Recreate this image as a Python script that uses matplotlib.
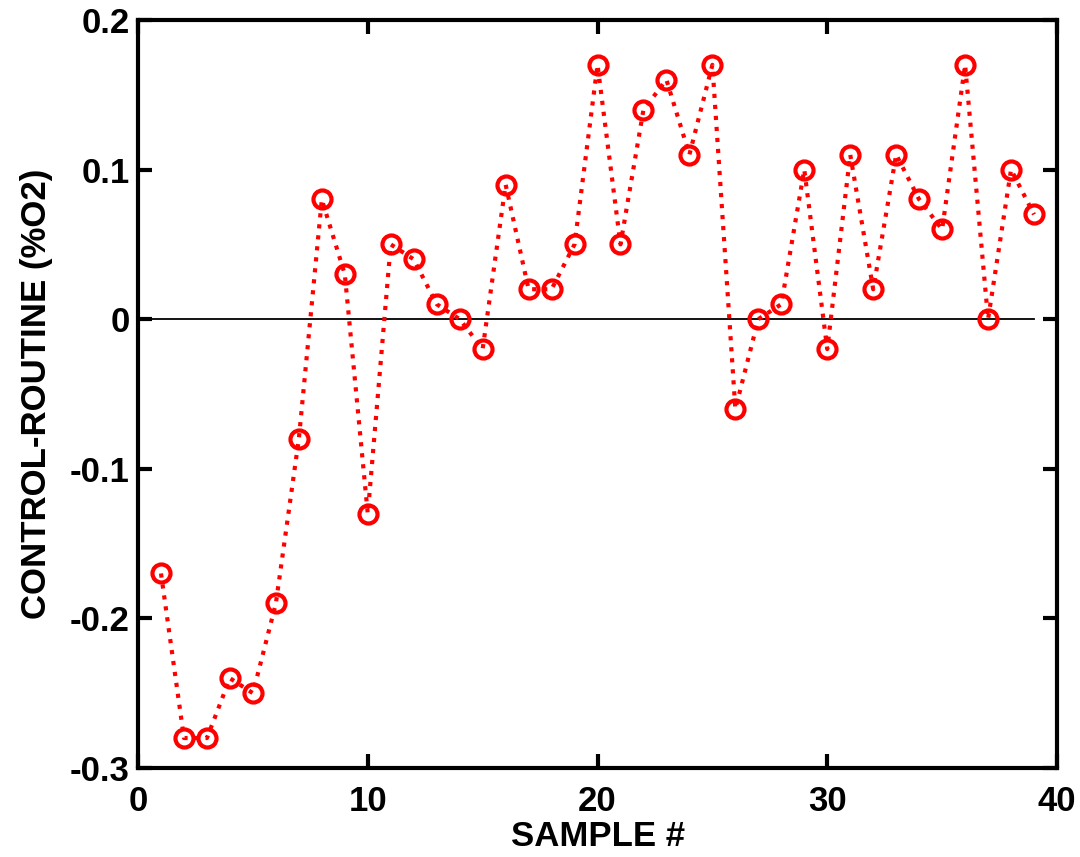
import numpy as np
import matplotlib
matplotlib.use("Agg")
import matplotlib.pyplot as plt

plt.rcParams['font.family'] = ['Liberation Sans', 'DejaVu Sans']
plt.rcParams['font.weight'] = 'bold'

# control minus routine O2 difference per sample
samples = np.arange(1, 40)
diff = [-0.17, -0.28, -0.28, -0.24, -0.25, -0.19, -0.08, 0.08, 0.03, -0.13,
        0.05, 0.04, 0.01, 0.00, -0.02, 0.09, 0.02, 0.02, 0.05, 0.17,
        0.05, 0.14, 0.16, 0.11, 0.17, -0.06, 0.00, 0.01, 0.10, -0.02,
        0.11, 0.02, 0.11, 0.08, 0.06, 0.17, 0.00, 0.10, 0.07]

fig = plt.figure(figsize=(10.8, 8.57), dpi=100)
ax = fig.add_axes([0.1278, 0.1039, 0.8509, 0.8728])

ax.plot([0, 39], [0, 0], color='black', lw=1.3)
ax.plot(samples, diff, ':', color='red', lw=3,
        marker='o', markersize=13, markerfacecolor='none',
        markeredgecolor='red', markeredgewidth=3)

ax.set_xlim(0, 40)
ax.set_ylim(-0.3, 0.2)
ax.set_xticks([0, 10, 20, 30, 40])
ax.set_yticks([-0.3, -0.2, -0.1, 0, 0.1, 0.2])
ax.set_yticklabels(['-0.3', '-0.2', '-0.1', '0', '0.1', '0.2'])

for s in ax.spines.values():
    s.set_linewidth(3)
ax.tick_params(direction='in', length=10, width=3, top=True, right=True,
               labelsize=25, pad=6)
ax.tick_params(axis='x', pad=12)

ax.set_xlabel('SAMPLE #', fontsize=25, fontweight='bold', labelpad=2)
ax.set_ylabel('CONTROL-ROUTINE (%O2)', fontsize=25, fontweight='bold', labelpad=12)

fig.savefig('out.png', dpi=100)
